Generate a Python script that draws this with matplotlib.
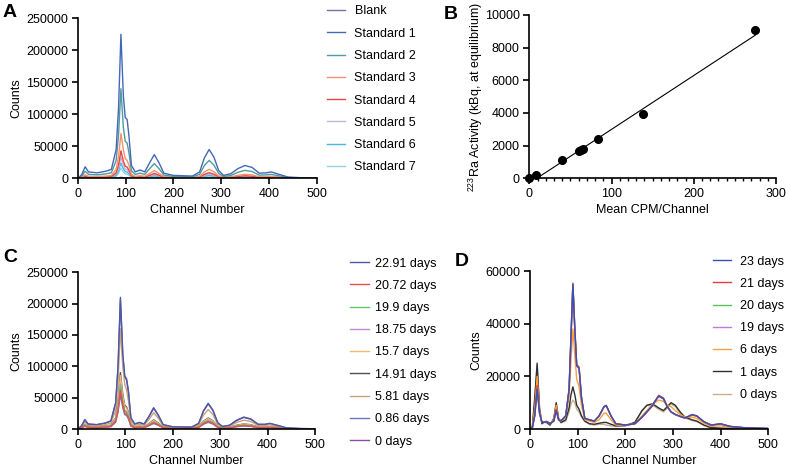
import matplotlib
matplotlib.use("Agg")
import matplotlib.pyplot as plt
from matplotlib.ticker import MultipleLocator

plt.rcParams['font.family'] = ['Liberation Sans', 'DejaVu Sans']
plt.rcParams['mathtext.default'] = 'regular'
plt.rcParams['font.size'] = 9

# ---------------- data ----------------
# Panel A / C channel grid
chan = [0, 8, 15, 22, 40, 58, 70, 80, 85, 90, 95, 99, 103, 107, 112, 120, 130, 140, 150, 160,
        170, 180, 200, 240, 255, 265, 275, 285, 295, 305, 320, 335, 350, 365, 380, 395, 405,
        420, 440, 470, 500]

std_labels = ['Blank', 'Standard 1', 'Standard 2', 'Standard 3', 'Standard 4',
              'Standard 5', 'Standard 6', 'Standard 7']
std_colors = ['#7b6f9e', '#4468b8', '#4f9c9c', '#f7916a', '#e8473f', '#c9b3d9', '#45b7ea', '#8fd6e0']
blank = [0, 40, 120, 70, 60, 75, 95, 300, 730, 1500, 930, 650, 600, 430, 130, 65, 85, 65, 160, 270,
         165, 55, 30, 25, 70, 220, 310, 220, 80, 30, 45, 100, 135, 115, 55, 55, 70, 45, 15, 5, 3]
std1 = [0, 6000, 18000, 10000, 8500, 11000, 14000, 45000, 110000, 225000, 130000, 95000, 92000,
        65000, 20000, 10000, 13000, 10000, 24000, 37000, 24000, 8000, 4500, 3500, 10000, 32000,
        45000, 33000, 12000, 4500, 7000, 15000, 20000, 17000, 8000, 8500, 10000, 6500, 2000, 800, 500]
std2 = [0, 3700, 11000, 6200, 5300, 6800, 8700, 28000, 68000, 140000, 80000, 58000, 55000, 39000,
        12000, 6000, 8000, 6200, 15000, 23000, 15000, 5000, 2800, 2200, 6200, 20000, 28000, 20500,
        7500, 2800, 4300, 9300, 12400, 10500, 5000, 5300, 6200, 4000, 1250, 500, 300]
std3 = [0, 1900, 5500, 3100, 2700, 3400, 4400, 14000, 34000, 70000, 45000, 31000, 28000, 20000,
        6000, 3000, 4000, 3100, 7500, 12000, 7500, 2500, 1400, 1100, 3100, 10000, 14000, 10200,
        3700, 1400, 2200, 4700, 6200, 5300, 2500, 2600, 3100, 2000, 620, 250, 150]
std4 = [0, 1200, 3500, 2000, 1700, 2100, 2700, 8600, 21000, 43000, 27000, 19000, 17500, 12500,
        3700, 1850, 2500, 1900, 4600, 7700, 4700, 1550, 850, 700, 1900, 6200, 8800, 6300, 2300,
        850, 1350, 2900, 3900, 3300, 1550, 1650, 1950, 1250, 390, 160, 90]
std5 = [0, 900, 2700, 1500, 1300, 1600, 2100, 6600, 16000, 33000, 21000, 14500, 13500, 9600, 2800,
        1400, 1900, 1450, 3500, 5900, 3600, 1200, 650, 540, 1500, 4800, 6800, 4800, 1750, 650,
        1050, 2200, 3000, 2500, 1200, 1250, 1500, 950, 300, 120, 70]
std6 = [0, 650, 2000, 1100, 950, 1200, 1500, 4800, 11700, 24000, 15000, 10500, 9800, 7000, 2050,
        1000, 1400, 1050, 2550, 4300, 2600, 870, 470, 390, 1100, 3500, 4900, 3500, 1270, 470, 750,
        1600, 2200, 1850, 870, 900, 1100, 700, 220, 90, 50]
std7 = [0, 430, 1300, 730, 630, 800, 1000, 3200, 7800, 16000, 10000, 7000, 6500, 4650, 1370, 680,
        930, 700, 1700, 2850, 1750, 580, 310, 260, 720, 2300, 3300, 2350, 850, 310, 500, 1050,
        1450, 1230, 580, 600, 730, 470, 150, 60, 35]
std_series = [blank, std1, std2, std3, std4, std5, std6, std7]

# Panel B calibration
cpm = [0, 8, 40, 60, 63, 65, 84, 138, 275]
activity = [0, 200, 1100, 1650, 1750, 1800, 2380, 3950, 9100]
fit_x = [11, 275]
fit_y = [60, 8770]

# Panel C decay series
decay_labels = ['22.91 days', '20.72 days', '19.9 days', '18.75 days', '15.7 days',
                '14.91 days', '5.81 days', '0.86 days', '0 days']
decay_colors = ['#4a5aa8', '#e8504a', '#6cc36c', '#c08ccc', '#f8b878', '#505050', '#c4a47c',
                '#6a74c0', '#8c4f98']
d2291 = [0, 5000, 15000, 8000, 7000, 9500, 13000, 42000, 100000, 210000, 120000, 85000, 80000,
         60000, 18000, 8000, 10500, 8000, 20000, 34000, 22000, 7000, 3500, 3000, 9000, 29000, 41000,
         30000, 10000, 4000, 6000, 14000, 19000, 16000, 7500, 7500, 9000, 6000, 1800, 700, 400]
d2072 = [0, 1700, 5000, 2800, 2400, 3200, 4200, 12500, 30000, 62000, 38000, 26000, 24000, 18000,
         5200, 2400, 3100, 2400, 5800, 9900, 6500, 2050, 1000, 880, 2600, 8600, 12000, 8900, 2900,
         1150, 1700, 4100, 5500, 4700, 2150, 2150, 2600, 1700, 550, 200, 120]
d1990 = [0, 1900, 5600, 3200, 2700, 3600, 4800, 14000, 34000, 70000, 43000, 29000, 27000, 20500,
         5800, 2700, 3500, 2700, 6600, 11200, 7400, 2300, 1150, 1000, 2900, 9700, 13600, 10100,
         3300, 1300, 1950, 4700, 6200, 5300, 2450, 2450, 2900, 1950, 620, 230, 130]
d1875 = [0, 2000, 5800, 3300, 2800, 3700, 4900, 14500, 35000, 72000, 44000, 30000, 28000, 21000,
         6000, 2800, 3600, 2800, 6800, 11500, 7600, 2400, 1200, 1000, 3000, 10000, 14000, 10400,
         3400, 1350, 2000, 4800, 6400, 5400, 2500, 2500, 3000, 2000, 640, 240, 140]
d1570 = [0, 2300, 6600, 3800, 3200, 4200, 5600, 17000, 41000, 85000, 52000, 36000, 33000, 24500,
         7000, 3300, 4200, 3300, 8000, 13500, 9000, 2800, 1400, 1200, 3600, 11800, 16500, 12300,
         4000, 1600, 2400, 5600, 7600, 6400, 3000, 3000, 3600, 2400, 750, 280, 160]
d1491 = [0, 2500, 7000, 4000, 3400, 4500, 6000, 18000, 44000, 90000, 55000, 38000, 35000, 26000,
         7500, 3500, 4500, 3500, 8500, 14500, 9500, 3000, 1500, 1300, 3800, 12500, 17500, 13000,
         4300, 1700, 2600, 6000, 8000, 6800, 3200, 3200, 3800, 2600, 800, 300, 170]
d0581 = [0, 3800, 11000, 6000, 5200, 7000, 9500, 30000, 75000, 160000, 100000, 72000, 62000,
         45000, 13000, 6000, 7800, 6000, 15000, 26000, 17000, 5200, 2600, 2300, 6700, 22000, 31000,
         23000, 7500, 3000, 4500, 10500, 14000, 12000, 5600, 5600, 6800, 4500, 1400, 500, 300]
d0086 = [0, 1500, 4400, 2500, 2100, 2800, 3700, 11000, 27000, 55000, 34000, 23000, 21500, 16000,
         4600, 2100, 2700, 2100, 5200, 8800, 5800, 1800, 900, 780, 2300, 7600, 10700, 7900, 2600,
         1000, 1500, 3700, 4900, 4200, 1900, 1900, 2300, 1500, 490, 180, 100]
d0000 = [0, 4800, 14500, 7800, 6800, 9200, 12600, 41000, 98000, 206000, 118000, 83000, 78000,
         58000, 17500, 7800, 10200, 7800, 19500, 33000, 21500, 6800, 3400, 2900, 8800, 28500, 40000,
         29500, 9800, 3900, 5800, 13600, 18500, 15500, 7300, 7300, 8700, 5800, 1700, 650, 380]
decay_series = [d2291, d2072, d1990, d1875, d1570, d1491, d0581, d0086, d0000]

# Panel D channel grid and series
chan_d = [0, 5, 10, 15, 20, 25, 30, 35, 42, 50, 55, 60, 65, 75, 82, 86, 90, 94, 98, 103, 108, 115,
          125, 135, 145, 155, 160, 170, 180, 200, 220, 235, 245, 255, 262, 270, 280, 288, 296, 305,
          315, 325, 340, 350, 365, 380, 400, 420, 450, 500]
day_labels = ['23 days', '21 days', '20 days', '19 days', '6 days', '1 days', '0 days']
day_colors = ['#3b4fb8', '#ee3b3b', '#59c459', '#b87fd6', '#f8a040', '#303030', '#c9b08c']
day23 = [0, 500, 5000, 15000, 6000, 2500, 2500, 2800, 2000, 3000, 7000, 3500, 3000, 5000, 15000,
         35000, 55000, 38000, 24000, 23000, 12000, 4000, 3500, 3000, 5000, 8500, 9000, 5000, 2000,
         1500, 2000, 4500, 6500, 8500, 10500, 12500, 11500, 8500, 6500, 5500, 4800, 4200, 5500,
         5000, 2800, 1500, 2000, 1000, 500, 200]
day21 = [0, 550, 5500, 16500, 6200, 2600, 2700, 2900, 2100, 3200, 7500, 3600, 3100, 5100, 15000,
         35000, 55000, 38500, 24500, 23500, 12000, 4000, 3500, 3000, 4900, 8300, 8800, 4900, 2000,
         1500, 2000, 4400, 6400, 8400, 10500, 12800, 11800, 8600, 6500, 5500, 4800, 4200, 5300,
         4900, 2700, 1500, 1900, 950, 450, 200]
day20 = [0, 520, 5200, 16000, 6100, 2550, 2600, 2850, 2050, 3100, 7300, 3550, 3050, 5000, 15200,
         35500, 55500, 38200, 24200, 23200, 11900, 4000, 3500, 3000, 4950, 8400, 8900, 4950, 2000,
         1500, 2000, 4450, 6450, 8450, 10400, 12600, 11600, 8500, 6450, 5450, 4750, 4150, 5400,
         4950, 2750, 1500, 1950, 980, 480, 200]
day19 = [0, 500, 5100, 15800, 6000, 2500, 2550, 2800, 2000, 3050, 7100, 3500, 3000, 4950, 14800,
         34500, 54500, 37800, 24000, 23000, 11800, 3950, 3450, 2950, 4900, 8350, 8850, 4900, 1950,
         1450, 1950, 4400, 6400, 8400, 10300, 12400, 11400, 8400, 6400, 5400, 4700, 4100, 5350,
         4900, 2700, 1450, 1900, 950, 450, 200]
day6 = [0, 800, 8000, 20000, 7000, 2500, 2800, 2800, 2000, 3500, 9000, 4000, 3000, 5000, 12000,
        26000, 38000, 28000, 19000, 16000, 9000, 3500, 3000, 2500, 3500, 6000, 6000, 3500, 1500,
        1300, 2000, 5000, 7000, 9000, 10000, 11000, 10500, 9000, 8500, 7000, 5500, 4500, 4500,
        4000, 2200, 1000, 1200, 600, 300, 100]
day1 = [0, 1000, 12000, 25000, 8000, 2000, 2800, 2500, 1500, 4000, 10000, 4000, 2500, 3500, 8000,
        13000, 16000, 13000, 9000, 7500, 5000, 3000, 2000, 1800, 2200, 2500, 2500, 1800, 1200,
        1300, 2500, 7000, 9000, 9500, 9000, 8000, 7000, 8500, 10000, 9000, 6500, 4500, 3500, 3000,
        1500, 500, 300, 200, 100, 50]
day0 = [0, 1000, 11000, 24000, 7500, 2000, 2600, 2300, 1400, 3800, 9500, 3800, 2300, 3000, 6500,
        9500, 11000, 10000, 7500, 6500, 4500, 2800, 1800, 1500, 1800, 1800, 1500, 1200, 900, 1200,
        2400, 6800, 8800, 9000, 8500, 7500, 6500, 8000, 9500, 8500, 6000, 4200, 3200, 2800, 1300,
        400, 250, 150, 80, 40]
day_series = [day23, day21, day20, day19, day6, day1, day0]

# ---------------- figure ----------------
W, H = 786, 468
fig = plt.figure(figsize=(W / 100, H / 100), dpi=100)


def px_axes(left, top, right, bottom):
    return fig.add_axes([left / W, 1 - bottom / H, (right - left) / W, (bottom - top) / H])


def style(ax):
    for s in ['top', 'right']:
        ax.spines[s].set_visible(False)
    for s in ['left', 'bottom']:
        ax.spines[s].set_linewidth(1.2)
    ax.tick_params(width=1.2, length=4, labelsize=9, pad=3)
    ax.tick_params(which='minor', width=1.0, length=2.5)


def legend(ax, handles, labels, x, y, hl, pad):
    ax.legend(handles, labels, loc='upper left', bbox_to_anchor=(x / W, 1 - y / H),
              bbox_transform=fig.transFigure, frameon=False, fontsize=9,
              handlelength=hl, handletextpad=pad, labelspacing=0.82,
              borderpad=0, borderaxespad=0)


def spectra(ax, x, series, colors, order):
    handles = [None] * len(series)
    for i in order:
        handles[i], = ax.plot(x, series[i], color=colors[i], lw=1.0)
    return handles


# Panel A
axA = px_axes(78, 18.3, 316.5, 178.3)
hA = spectra(axA, chan, std_series, std_colors, [0, 7, 6, 5, 4, 3, 2, 1])
axA.set_xlim(0, 500)
axA.set_ylim(0, 250000)
axA.set_xticks([0, 100, 200, 300, 400, 500])
axA.set_yticks([0, 50000, 100000, 150000, 200000, 250000])
axA.set_xlabel('Channel Number', fontsize=9, labelpad=3)
axA.set_ylabel('Counts', fontsize=9)
axA.yaxis.set_label_coords(-0.235, 0.5)
style(axA)
legend(axA, hA, std_labels, 327, 5.5, 1.4, 0.8)

# Panel B
axB = px_axes(529.3, 15, 776, 178.3)
axB.plot(fit_x, fit_y, color='black', lw=0.8)
axB.plot(cpm, activity, 'o', color='black', ms=5.5, clip_on=False, zorder=3)
axB.set_xlim(0, 300)
axB.set_ylim(0, 10000)
axB.set_xticks([0, 100, 200, 300])
axB.xaxis.set_minor_locator(MultipleLocator(10))
axB.set_yticks([0, 2000, 4000, 6000, 8000, 10000])
axB.set_xlabel('Mean CPM/Channel', fontsize=9, labelpad=3)
axB.set_ylabel('$^{223}$Ra Activity (kBq, at equilibrium)', fontsize=9)
axB.yaxis.set_label_coords(-0.18, 0.5)
style(axB)

# Panel C
axC = px_axes(77.7, 272.3, 315, 429)
hC = spectra(axC, chan, decay_series, decay_colors, [8, 7, 6, 5, 4, 3, 2, 1, 0])
axC.set_xlim(0, 500)
axC.set_ylim(0, 250000)
axC.set_xticks([0, 100, 200, 300, 400, 500])
axC.set_yticks([0, 50000, 100000, 150000, 200000, 250000])
axC.set_xlabel('Channel Number', fontsize=9, labelpad=3)
axC.set_ylabel('Counts', fontsize=9)
axC.yaxis.set_label_coords(-0.235, 0.5)
style(axC)
legend(axC, hC, decay_labels, 350, 257.5, 1.5, 0.5)

# Panel D
axD = px_axes(530, 271, 768.3, 429)
hD = spectra(axD, chan_d, day_series, day_colors, [6, 5, 4, 3, 2, 1, 0])
axD.set_xlim(0, 500)
axD.set_ylim(0, 60000)
axD.set_xticks([0, 100, 200, 300, 400, 500])
axD.set_yticks([0, 20000, 40000, 60000])
axD.set_xlabel('Channel Number', fontsize=9, labelpad=3)
axD.set_ylabel('Counts', fontsize=9)
axD.yaxis.set_label_coords(-0.2, 0.5)
style(axD)
legend(axD, hD, day_labels, 713, 255.5, 1.4, 0.72)

# Panel letters
for letter, x, y in [('A', 3, 4), ('B', 444, 6), ('C', 3, 249), ('D', 455, 253)]:
    fig.text(x / W, 1 - y / H, letter, fontsize=14, fontweight='bold', ha='left', va='top')

fig.savefig('out.png', dpi=100)
